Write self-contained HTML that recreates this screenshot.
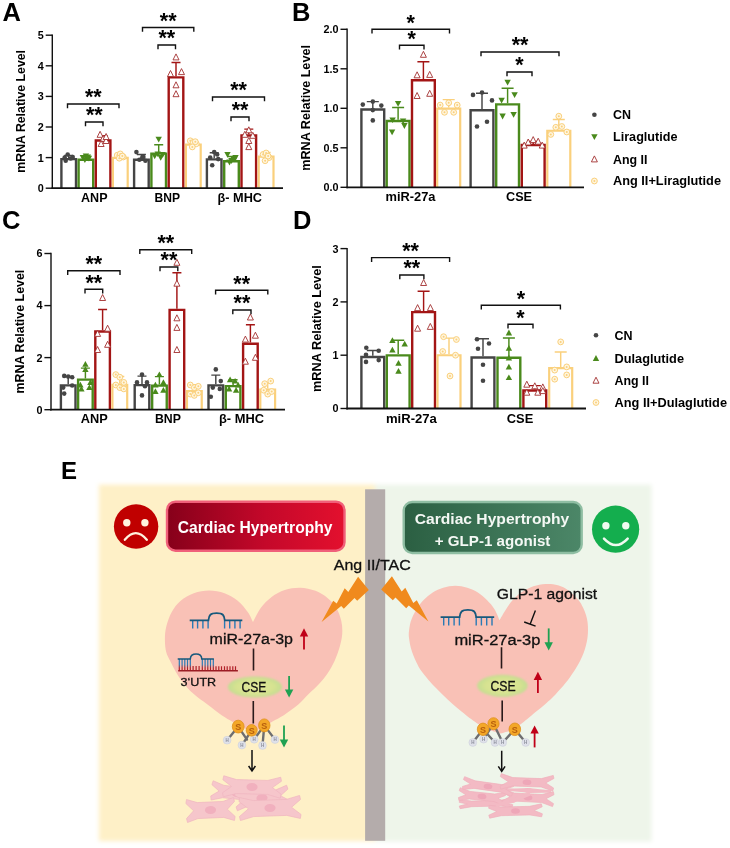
<!DOCTYPE html>
<html><head><meta charset="utf-8"><title>Figure</title>
<style>html,body{margin:0;padding:0;background:#fff}svg{display:block;filter:blur(0.35px)}text{font-family:"Liberation Sans",sans-serif}</style></head>
<body>
<svg width="730" height="848" viewBox="0 0 730 848" font-family="'Liberation Sans', sans-serif">
<defs>
<linearGradient id="gr" x1="0" x2="1" y1="0" y2="0"><stop offset="0" stop-color="#86001a"/><stop offset="0.55" stop-color="#c4082a"/><stop offset="1" stop-color="#e3102e"/></linearGradient>
<linearGradient id="gg" x1="0" x2="1" y1="0" y2="0"><stop offset="0" stop-color="#2b5f42"/><stop offset="1" stop-color="#4c8768"/></linearGradient>
<radialGradient id="gcse"><stop offset="0" stop-color="#e3e89c"/><stop offset="0.7" stop-color="#d6e290"/><stop offset="1" stop-color="#c3dd93"/></radialGradient>
<filter id="soft" x="-5%" y="-5%" width="110%" height="110%"><feGaussianBlur stdDeviation="2"/></filter>
<filter id="soft2" x="-5%" y="-5%" width="110%" height="110%"><feGaussianBlur stdDeviation="0.5"/></filter>
<filter id="soft3" x="-10%" y="-20%" width="120%" height="140%"><feGaussianBlur stdDeviation="0.8"/></filter>
</defs>
<rect width="730" height="848" fill="#fff"/>
<path d="M61.40 188.2V159.11H76.00V188.2" fill="#fff" stroke="#454545" stroke-width="2.4"/>
<path d="M68.7 157.9V155.5M64.2 155.5H73.2" stroke="#454545" stroke-width="1.45" fill="none"/>
<circle cx="64.7" cy="157.6" r="2.3" fill="#454545"/>
<circle cx="67.7" cy="154.5" r="2.3" fill="#454545"/>
<circle cx="70.7" cy="158.5" r="2.3" fill="#454545"/>
<circle cx="72.7" cy="157.0" r="2.3" fill="#454545"/>
<circle cx="65.7" cy="160.7" r="2.3" fill="#454545"/>
<path d="M78.60 188.2V159.72H93.20V188.2" fill="#fff" stroke="#4a8a1c" stroke-width="2.4"/>
<path d="M85.9 158.5V156.4M81.4 156.4H90.4" stroke="#4a8a1c" stroke-width="1.45" fill="none"/>
<path d="M79.7 155.0L86.1 155.0L82.9 160.8Z" fill="#4a8a1c"/>
<path d="M82.7 153.5L89.1 153.5L85.9 159.3Z" fill="#4a8a1c"/>
<path d="M85.7 155.7L92.1 155.7L88.9 161.4Z" fill="#4a8a1c"/>
<path d="M81.7 157.2L88.1 157.2L84.9 162.9Z" fill="#4a8a1c"/>
<path d="M84.7 154.4L91.1 154.4L87.9 160.2Z" fill="#4a8a1c"/>
<path d="M95.80 188.2V140.44H110.40V188.2" fill="#fff" stroke="#a31515" stroke-width="2.4"/>
<path d="M103.1 139.2V135.6M98.6 135.6H107.6" stroke="#a31515" stroke-width="1.45" fill="none"/>
<path d="M97.1 137.3L103.1 137.3L100.1 131.3Z" fill="#fff" stroke="#a33030" stroke-width="0.9" stroke-linejoin="miter"/>
<path d="M100.1 141.3L106.1 141.3L103.1 135.3Z" fill="#fff" stroke="#a33030" stroke-width="0.9" stroke-linejoin="miter"/>
<path d="M103.1 143.5L109.1 143.5L106.1 137.5Z" fill="#fff" stroke="#a33030" stroke-width="0.9" stroke-linejoin="miter"/>
<path d="M98.1 146.5L104.1 146.5L101.1 140.5Z" fill="#fff" stroke="#a33030" stroke-width="0.9" stroke-linejoin="miter"/>
<path d="M103.1 139.5L109.1 139.5L106.1 133.5Z" fill="#fff" stroke="#a33030" stroke-width="0.9" stroke-linejoin="miter"/>
<path d="M112.90 188.2V157.78H127.70V188.2" fill="#fff" stroke="#fad07c" stroke-width="2.2"/>
<path d="M120.3 156.7V154.5M115.8 154.5H124.8" stroke="#fad07c" stroke-width="1.45" fill="none"/>
<circle cx="117.3" cy="155.2" r="2.9" fill="#fff6e0" stroke="#fad07c" stroke-width="1"/>
<circle cx="117.3" cy="155.2" r="1.0" fill="#fad07c"/>
<circle cx="120.3" cy="153.9" r="2.9" fill="#fff6e0" stroke="#fad07c" stroke-width="1"/>
<circle cx="120.3" cy="153.9" r="1.0" fill="#fad07c"/>
<circle cx="123.3" cy="157.0" r="2.9" fill="#fff6e0" stroke="#fad07c" stroke-width="1"/>
<circle cx="123.3" cy="157.0" r="1.0" fill="#fad07c"/>
<circle cx="119.3" cy="158.2" r="2.9" fill="#fff6e0" stroke="#fad07c" stroke-width="1"/>
<circle cx="119.3" cy="158.2" r="1.0" fill="#fad07c"/>
<circle cx="122.3" cy="156.1" r="2.9" fill="#fff6e0" stroke="#fad07c" stroke-width="1"/>
<circle cx="122.3" cy="156.1" r="1.0" fill="#fad07c"/>
<path d="M134.10 188.2V159.72H148.70V188.2" fill="#fff" stroke="#454545" stroke-width="2.4"/>
<path d="M141.4 158.5V154.5M136.9 154.5H145.9" stroke="#454545" stroke-width="1.45" fill="none"/>
<circle cx="136.4" cy="152.1" r="2.3" fill="#454545"/>
<circle cx="139.4" cy="159.7" r="2.3" fill="#454545"/>
<circle cx="142.4" cy="157.6" r="2.3" fill="#454545"/>
<circle cx="145.4" cy="160.7" r="2.3" fill="#454545"/>
<circle cx="143.4" cy="157.0" r="2.3" fill="#454545"/>
<path d="M151.40 188.2V153.60H166.00V188.2" fill="#fff" stroke="#4a8a1c" stroke-width="2.4"/>
<path d="M158.7 152.4V144.7M154.2 144.7H163.2" stroke="#4a8a1c" stroke-width="1.45" fill="none"/>
<path d="M155.5 136.7L161.9 136.7L158.7 142.4Z" fill="#4a8a1c"/>
<path d="M151.5 153.5L157.9 153.5L154.7 159.3Z" fill="#4a8a1c"/>
<path d="M154.5 151.4L160.9 151.4L157.7 157.1Z" fill="#4a8a1c"/>
<path d="M157.5 155.0L163.9 155.0L160.7 160.8Z" fill="#4a8a1c"/>
<path d="M159.5 152.0L165.9 152.0L162.7 157.7Z" fill="#4a8a1c"/>
<path d="M168.70 188.2V77.40H183.30V188.2" fill="#fff" stroke="#a31515" stroke-width="2.4"/>
<path d="M176.0 76.2V62.4M171.5 62.4H180.5" stroke="#a31515" stroke-width="1.45" fill="none"/>
<path d="M173.0 59.9L179.0 59.9L176.0 53.9Z" fill="#fff" stroke="#a33030" stroke-width="0.9" stroke-linejoin="miter"/>
<path d="M167.5 76.5L173.5 76.5L170.5 70.5Z" fill="#fff" stroke="#a33030" stroke-width="0.9" stroke-linejoin="miter"/>
<path d="M178.5 74.6L184.5 74.6L181.5 68.6Z" fill="#fff" stroke="#a33030" stroke-width="0.9" stroke-linejoin="miter"/>
<path d="M173.0 87.8L179.0 87.8L176.0 81.8Z" fill="#fff" stroke="#a33030" stroke-width="0.9" stroke-linejoin="miter"/>
<path d="M173.0 96.7L179.0 96.7L176.0 90.7Z" fill="#fff" stroke="#a33030" stroke-width="0.9" stroke-linejoin="miter"/>
<path d="M185.90 188.2V144.62H200.70V188.2" fill="#fff" stroke="#fad07c" stroke-width="2.2"/>
<path d="M193.3 143.5V140.5M188.8 140.5H197.8" stroke="#fad07c" stroke-width="1.45" fill="none"/>
<circle cx="190.3" cy="140.8" r="2.9" fill="#fff6e0" stroke="#fad07c" stroke-width="1"/>
<circle cx="190.3" cy="140.8" r="1.0" fill="#fad07c"/>
<circle cx="193.3" cy="142.3" r="2.9" fill="#fff6e0" stroke="#fad07c" stroke-width="1"/>
<circle cx="193.3" cy="142.3" r="1.0" fill="#fad07c"/>
<circle cx="196.3" cy="143.8" r="2.9" fill="#fff6e0" stroke="#fad07c" stroke-width="1"/>
<circle cx="196.3" cy="143.8" r="1.0" fill="#fad07c"/>
<circle cx="192.3" cy="146.9" r="2.9" fill="#fff6e0" stroke="#fad07c" stroke-width="1"/>
<circle cx="192.3" cy="146.9" r="1.0" fill="#fad07c"/>
<circle cx="195.3" cy="141.7" r="2.9" fill="#fff6e0" stroke="#fad07c" stroke-width="1"/>
<circle cx="195.3" cy="141.7" r="1.0" fill="#fad07c"/>
<path d="M206.90 188.2V159.41H221.50V188.2" fill="#fff" stroke="#454545" stroke-width="2.4"/>
<path d="M214.2 158.2V152.7M209.7 152.7H218.7" stroke="#454545" stroke-width="1.45" fill="none"/>
<circle cx="210.2" cy="157.6" r="2.3" fill="#454545"/>
<circle cx="214.2" cy="152.1" r="2.3" fill="#454545"/>
<circle cx="218.2" cy="159.1" r="2.3" fill="#454545"/>
<circle cx="212.2" cy="165.2" r="2.3" fill="#454545"/>
<circle cx="217.2" cy="154.5" r="2.3" fill="#454545"/>
<path d="M224.20 188.2V161.25H238.80V188.2" fill="#fff" stroke="#4a8a1c" stroke-width="2.4"/>
<path d="M231.5 160.0V156.4M227.0 156.4H236.0" stroke="#4a8a1c" stroke-width="1.45" fill="none"/>
<path d="M224.3 152.0L230.7 152.0L227.5 157.7Z" fill="#4a8a1c"/>
<path d="M228.3 158.1L234.7 158.1L231.5 163.9Z" fill="#4a8a1c"/>
<path d="M231.3 156.6L237.7 156.6L234.5 162.3Z" fill="#4a8a1c"/>
<path d="M226.3 159.6L232.7 159.6L229.5 165.4Z" fill="#4a8a1c"/>
<path d="M232.3 155.0L238.7 155.0L235.5 160.8Z" fill="#4a8a1c"/>
<path d="M241.50 188.2V135.54H256.10V188.2" fill="#fff" stroke="#a31515" stroke-width="2.4"/>
<path d="M248.8 134.3V129.1M244.3 129.1H253.3" stroke="#a31515" stroke-width="1.45" fill="none"/>
<path d="M245.8 132.8L251.8 132.8L248.8 126.8Z" fill="#fff" stroke="#a33030" stroke-width="0.9" stroke-linejoin="miter"/>
<path d="M241.8 137.3L247.8 137.3L244.8 131.3Z" fill="#fff" stroke="#a33030" stroke-width="0.9" stroke-linejoin="miter"/>
<path d="M249.8 138.3L255.8 138.3L252.8 132.3Z" fill="#fff" stroke="#a33030" stroke-width="0.9" stroke-linejoin="miter"/>
<path d="M245.8 143.5L251.8 143.5L248.8 137.5Z" fill="#fff" stroke="#a33030" stroke-width="0.9" stroke-linejoin="miter"/>
<path d="M245.8 149.6L251.8 149.6L248.8 143.6Z" fill="#fff" stroke="#a33030" stroke-width="0.9" stroke-linejoin="miter"/>
<path d="M258.70 188.2V156.56H273.50V188.2" fill="#fff" stroke="#fad07c" stroke-width="2.2"/>
<path d="M266.1 155.5V152.4M261.6 152.4H270.6" stroke="#fad07c" stroke-width="1.45" fill="none"/>
<circle cx="263.1" cy="154.5" r="2.9" fill="#fff6e0" stroke="#fad07c" stroke-width="1"/>
<circle cx="263.1" cy="154.5" r="1.0" fill="#fad07c"/>
<circle cx="266.1" cy="153.0" r="2.9" fill="#fff6e0" stroke="#fad07c" stroke-width="1"/>
<circle cx="266.1" cy="153.0" r="1.0" fill="#fad07c"/>
<circle cx="269.1" cy="157.6" r="2.9" fill="#fff6e0" stroke="#fad07c" stroke-width="1"/>
<circle cx="269.1" cy="157.6" r="1.0" fill="#fad07c"/>
<circle cx="265.1" cy="160.7" r="2.9" fill="#fff6e0" stroke="#fad07c" stroke-width="1"/>
<circle cx="265.1" cy="160.7" r="1.0" fill="#fad07c"/>
<circle cx="268.1" cy="156.1" r="2.9" fill="#fff6e0" stroke="#fad07c" stroke-width="1"/>
<circle cx="268.1" cy="156.1" r="1.0" fill="#fad07c"/>
<path d="M52.3 34.5V189.1" fill="none" stroke="#111" stroke-width="1.4"/>
<path d="M51.599999999999994 188.2H283" fill="none" stroke="#111" stroke-width="1.8"/>
<path d="M45.699999999999996 188.2H52.3" stroke="#111" stroke-width="1.4"/>
<text x="43.699999999999996" y="192.1" font-size="10.8" font-weight="bold" text-anchor="end" fill="#000">0</text>
<path d="M45.699999999999996 157.6H52.3" stroke="#111" stroke-width="1.4"/>
<text x="43.699999999999996" y="161.5" font-size="10.8" font-weight="bold" text-anchor="end" fill="#000">1</text>
<path d="M45.699999999999996 127.0H52.3" stroke="#111" stroke-width="1.4"/>
<text x="43.699999999999996" y="130.89999999999998" font-size="10.8" font-weight="bold" text-anchor="end" fill="#000">2</text>
<path d="M45.699999999999996 96.4H52.3" stroke="#111" stroke-width="1.4"/>
<text x="43.699999999999996" y="100.29999999999998" font-size="10.8" font-weight="bold" text-anchor="end" fill="#000">3</text>
<path d="M45.699999999999996 65.8H52.3" stroke="#111" stroke-width="1.4"/>
<text x="43.699999999999996" y="69.69999999999999" font-size="10.8" font-weight="bold" text-anchor="end" fill="#000">4</text>
<path d="M45.699999999999996 35.2H52.3" stroke="#111" stroke-width="1.4"/>
<text x="43.699999999999996" y="39.09999999999999" font-size="10.8" font-weight="bold" text-anchor="end" fill="#000">5</text>
<text transform="translate(24.9 111.35) rotate(-90)" font-size="13" font-weight="bold" text-anchor="middle" textLength="122.7" lengthAdjust="spacingAndGlyphs">mRNA Relative Level</text>
<text x="94.3" y="201.8" font-size="12.4" font-weight="bold" text-anchor="middle" fill="#000" textLength="26.5" lengthAdjust="spacingAndGlyphs">ANP</text>
<text x="167.3" y="201.8" font-size="12.4" font-weight="bold" text-anchor="middle" fill="#000" textLength="25.5" lengthAdjust="spacingAndGlyphs">BNP</text>
<text x="239.8" y="201.8" font-size="12.4" font-weight="bold" text-anchor="middle" fill="#000" textLength="44.5" lengthAdjust="spacingAndGlyphs">β- MHC</text>
<path d="M67.5 108.3V104H119V108.3" fill="none" stroke="#111" stroke-width="1.4"/>
<text x="93.25" y="104.3" font-size="21.5" font-weight="bold" text-anchor="middle" fill="#000">**</text>
<path d="M85.5 126.3V122H103V126.3" fill="none" stroke="#111" stroke-width="1.4"/>
<text x="94.25" y="122.3" font-size="21.5" font-weight="bold" text-anchor="middle" fill="#000">**</text>
<path d="M142.5 31.8V27.5H193.8V31.8" fill="none" stroke="#111" stroke-width="1.4"/>
<text x="168.15" y="27.8" font-size="21.5" font-weight="bold" text-anchor="middle" fill="#000">**</text>
<path d="M158 49.3V45H175.5V49.3" fill="none" stroke="#111" stroke-width="1.4"/>
<text x="166.75" y="45.3" font-size="21.5" font-weight="bold" text-anchor="middle" fill="#000">**</text>
<path d="M212.5 101.3V97H264.5V101.3" fill="none" stroke="#111" stroke-width="1.4"/>
<text x="238.5" y="97.3" font-size="21.5" font-weight="bold" text-anchor="middle" fill="#000">**</text>
<path d="M231 121.3V117H249V121.3" fill="none" stroke="#111" stroke-width="1.4"/>
<text x="240.0" y="117.3" font-size="21.5" font-weight="bold" text-anchor="middle" fill="#000">**</text>
<text x="2.5" y="20.5" font-size="25.5" font-weight="bold" text-anchor="start" fill="#000">A</text>
<path d="M361.40 187.3V109.50H384.20V187.3" fill="#fff" stroke="#454545" stroke-width="2.4"/>
<path d="M372.8 108.3V101.6M366.8 101.6H378.8" stroke="#454545" stroke-width="1.45" fill="none"/>
<circle cx="362.8" cy="104.6" r="2.3" fill="#454545"/>
<circle cx="372.8" cy="101.6" r="2.3" fill="#454545"/>
<circle cx="381.3" cy="105.6" r="2.3" fill="#454545"/>
<circle cx="372.8" cy="110.1" r="2.3" fill="#454545"/>
<circle cx="372.8" cy="120.4" r="2.3" fill="#454545"/>
<path d="M386.70 187.3V120.96H409.50V187.3" fill="#fff" stroke="#4a8a1c" stroke-width="2.4"/>
<path d="M398.1 119.8V107.5M392.1 107.5H404.1" stroke="#4a8a1c" stroke-width="1.45" fill="none"/>
<path d="M394.9 101.0L401.3 101.0L398.1 106.8Z" fill="#4a8a1c"/>
<path d="M389.4 117.4L395.8 117.4L392.6 123.1Z" fill="#4a8a1c"/>
<path d="M401.2 123.1L407.6 123.1L404.4 128.9Z" fill="#4a8a1c"/>
<path d="M388.9 129.4L395.3 129.4L392.1 135.2Z" fill="#4a8a1c"/>
<path d="M399.9 118.4L406.3 118.4L403.1 124.1Z" fill="#4a8a1c"/>
<path d="M412.00 187.3V80.27H434.80V187.3" fill="#fff" stroke="#a31515" stroke-width="2.4"/>
<path d="M423.4 79.1V61.7M417.4 61.7H429.4" stroke="#a31515" stroke-width="1.45" fill="none"/>
<path d="M420.4 57.3L426.4 57.3L423.4 51.3Z" fill="#fff" stroke="#a33030" stroke-width="0.9" stroke-linejoin="miter"/>
<path d="M414.1 77.8L420.1 77.8L417.1 71.8Z" fill="#fff" stroke="#a33030" stroke-width="0.9" stroke-linejoin="miter"/>
<path d="M426.7 77.4L432.7 77.4L429.7 71.4Z" fill="#fff" stroke="#a33030" stroke-width="0.9" stroke-linejoin="miter"/>
<path d="M414.1 98.5L420.1 98.5L417.1 92.5Z" fill="#fff" stroke="#a33030" stroke-width="0.9" stroke-linejoin="miter"/>
<path d="M426.7 96.3L432.7 96.3L429.7 90.3Z" fill="#fff" stroke="#a33030" stroke-width="0.9" stroke-linejoin="miter"/>
<path d="M437.20 187.3V108.61H460.20V187.3" fill="#fff" stroke="#fad07c" stroke-width="2.2"/>
<path d="M448.7 107.5V99.6M442.7 99.6H454.7" stroke="#fad07c" stroke-width="1.45" fill="none"/>
<circle cx="440.2" cy="105.1" r="2.9" fill="#fff6e0" stroke="#fad07c" stroke-width="1"/>
<circle cx="440.2" cy="105.1" r="1.0" fill="#fad07c"/>
<circle cx="448.7" cy="102.8" r="2.9" fill="#fff6e0" stroke="#fad07c" stroke-width="1"/>
<circle cx="448.7" cy="102.8" r="1.0" fill="#fad07c"/>
<circle cx="457.2" cy="105.1" r="2.9" fill="#fff6e0" stroke="#fad07c" stroke-width="1"/>
<circle cx="457.2" cy="105.1" r="1.0" fill="#fad07c"/>
<circle cx="444.5" cy="112.3" r="2.9" fill="#fff6e0" stroke="#fad07c" stroke-width="1"/>
<circle cx="444.5" cy="112.3" r="1.0" fill="#fad07c"/>
<circle cx="453.7" cy="112.3" r="2.9" fill="#fff6e0" stroke="#fad07c" stroke-width="1"/>
<circle cx="453.7" cy="112.3" r="1.0" fill="#fad07c"/>
<path d="M470.60 187.3V110.29H493.40V187.3" fill="#fff" stroke="#454545" stroke-width="2.4"/>
<path d="M482.0 109.1V93.3M476.0 93.3H488.0" stroke="#454545" stroke-width="1.45" fill="none"/>
<circle cx="473.0" cy="94.9" r="2.3" fill="#454545"/>
<circle cx="482.0" cy="92.5" r="2.3" fill="#454545"/>
<circle cx="492.0" cy="100.4" r="2.3" fill="#454545"/>
<circle cx="477.0" cy="126.5" r="2.3" fill="#454545"/>
<circle cx="487.0" cy="121.7" r="2.3" fill="#454545"/>
<path d="M496.20 187.3V104.37H519.00V187.3" fill="#fff" stroke="#4a8a1c" stroke-width="2.4"/>
<path d="M507.6 103.2V88.2M501.6 88.2H513.6" stroke="#4a8a1c" stroke-width="1.45" fill="none"/>
<path d="M504.4 79.7L510.8 79.7L507.6 85.4Z" fill="#4a8a1c"/>
<path d="M498.4 97.8L504.8 97.8L501.6 103.6Z" fill="#4a8a1c"/>
<path d="M511.4 92.3L517.8 92.3L514.6 98.1Z" fill="#4a8a1c"/>
<path d="M499.4 113.6L505.8 113.6L502.6 119.4Z" fill="#4a8a1c"/>
<path d="M510.4 112.1L516.8 112.1L513.6 117.8Z" fill="#4a8a1c"/>
<path d="M521.80 187.3V145.05H544.60V187.3" fill="#fff" stroke="#a31515" stroke-width="2.4"/>
<path d="M533.2 143.9V141.5M527.2 141.5H539.2" stroke="#a31515" stroke-width="1.45" fill="none"/>
<path d="M525.2 145.0L531.2 145.0L528.2 139.0Z" fill="#fff" stroke="#a33030" stroke-width="0.9" stroke-linejoin="miter"/>
<path d="M530.2 142.6L536.2 142.6L533.2 136.6Z" fill="#fff" stroke="#a33030" stroke-width="0.9" stroke-linejoin="miter"/>
<path d="M535.2 144.2L541.2 144.2L538.2 138.2Z" fill="#fff" stroke="#a33030" stroke-width="0.9" stroke-linejoin="miter"/>
<path d="M521.2 148.1L527.2 148.1L524.2 142.1Z" fill="#fff" stroke="#a33030" stroke-width="0.9" stroke-linejoin="miter"/>
<path d="M539.2 148.1L545.2 148.1L542.2 142.1Z" fill="#fff" stroke="#a33030" stroke-width="0.9" stroke-linejoin="miter"/>
<path d="M547.30 187.3V130.73H570.30V187.3" fill="#fff" stroke="#fad07c" stroke-width="2.2"/>
<path d="M558.8 129.6V119.4M552.8 119.4H564.8" stroke="#fad07c" stroke-width="1.45" fill="none"/>
<circle cx="558.8" cy="116.2" r="2.9" fill="#fff6e0" stroke="#fad07c" stroke-width="1"/>
<circle cx="558.8" cy="116.2" r="1.0" fill="#fad07c"/>
<circle cx="555.8" cy="127.3" r="2.9" fill="#fff6e0" stroke="#fad07c" stroke-width="1"/>
<circle cx="555.8" cy="127.3" r="1.0" fill="#fad07c"/>
<circle cx="561.8" cy="126.5" r="2.9" fill="#fff6e0" stroke="#fad07c" stroke-width="1"/>
<circle cx="561.8" cy="126.5" r="1.0" fill="#fad07c"/>
<circle cx="550.8" cy="134.4" r="2.9" fill="#fff6e0" stroke="#fad07c" stroke-width="1"/>
<circle cx="550.8" cy="134.4" r="1.0" fill="#fad07c"/>
<circle cx="566.8" cy="132.0" r="2.9" fill="#fff6e0" stroke="#fad07c" stroke-width="1"/>
<circle cx="566.8" cy="132.0" r="1.0" fill="#fad07c"/>
<path d="M347.1 28.6V188.20000000000002" fill="none" stroke="#111" stroke-width="1.4"/>
<path d="M346.40000000000003 187.3H584" fill="none" stroke="#111" stroke-width="1.8"/>
<path d="M340.5 187.3H347.1" stroke="#111" stroke-width="1.4"/>
<text x="338.5" y="191.20000000000002" font-size="10.8" font-weight="bold" text-anchor="end" fill="#000">0.0</text>
<path d="M340.5 147.8H347.1" stroke="#111" stroke-width="1.4"/>
<text x="338.5" y="151.70000000000002" font-size="10.8" font-weight="bold" text-anchor="end" fill="#000">0.5</text>
<path d="M340.5 108.3H347.1" stroke="#111" stroke-width="1.4"/>
<text x="338.5" y="112.20000000000002" font-size="10.8" font-weight="bold" text-anchor="end" fill="#000">1.0</text>
<path d="M340.5 68.8H347.1" stroke="#111" stroke-width="1.4"/>
<text x="338.5" y="72.70000000000002" font-size="10.8" font-weight="bold" text-anchor="end" fill="#000">1.5</text>
<path d="M340.5 29.3H347.1" stroke="#111" stroke-width="1.4"/>
<text x="338.5" y="33.20000000000001" font-size="10.8" font-weight="bold" text-anchor="end" fill="#000">2.0</text>
<text transform="translate(310.2 107.9) rotate(-90)" font-size="13" font-weight="bold" text-anchor="middle" textLength="125.6" lengthAdjust="spacingAndGlyphs">mRNA Relative Level</text>
<text x="410.5" y="201" font-size="12.4" font-weight="bold" text-anchor="middle" fill="#000" textLength="50" lengthAdjust="spacingAndGlyphs">miR-27a</text>
<text x="519" y="201" font-size="12.4" font-weight="bold" text-anchor="middle" fill="#000" textLength="26" lengthAdjust="spacingAndGlyphs">CSE</text>
<path d="M372 33.5V29.2H449.5V33.5" fill="none" stroke="#111" stroke-width="1.4"/>
<text x="410.75" y="29.5" font-size="21.5" font-weight="bold" text-anchor="middle" fill="#000">*</text>
<path d="M399.5 49.5V45.2H424V49.5" fill="none" stroke="#111" stroke-width="1.4"/>
<text x="411.75" y="45.5" font-size="21.5" font-weight="bold" text-anchor="middle" fill="#000">*</text>
<path d="M481 56.3V52H559V56.3" fill="none" stroke="#111" stroke-width="1.4"/>
<text x="520.0" y="52.3" font-size="21.5" font-weight="bold" text-anchor="middle" fill="#000">**</text>
<path d="M507 76.3V72H532V76.3" fill="none" stroke="#111" stroke-width="1.4"/>
<text x="519.5" y="72.3" font-size="21.5" font-weight="bold" text-anchor="middle" fill="#000">*</text>
<text x="292" y="20.5" font-size="25.5" font-weight="bold" text-anchor="start" fill="#000">B</text>
<path d="M60.90 409.7V385.39H75.50V409.7" fill="#fff" stroke="#454545" stroke-width="2.4"/>
<path d="M68.2 384.2V376.4M63.7 376.4H72.7" stroke="#454545" stroke-width="1.45" fill="none"/>
<circle cx="64.2" cy="375.9" r="2.3" fill="#454545"/>
<circle cx="68.2" cy="376.6" r="2.3" fill="#454545"/>
<circle cx="72.2" cy="377.2" r="2.3" fill="#454545"/>
<circle cx="63.2" cy="387.6" r="2.3" fill="#454545"/>
<circle cx="64.2" cy="393.6" r="2.3" fill="#454545"/>
<circle cx="72.2" cy="385.5" r="2.3" fill="#454545"/>
<path d="M78.10 409.7V379.66H92.70V409.7" fill="#fff" stroke="#4a8a1c" stroke-width="2.4"/>
<path d="M85.4 378.5V368.1M80.9 368.1H89.9" stroke="#4a8a1c" stroke-width="1.45" fill="none"/>
<path d="M82.2 366.7L88.6 366.7L85.4 360.9Z" fill="#4a8a1c"/>
<path d="M82.2 371.9L88.6 371.9L85.4 366.2Z" fill="#4a8a1c"/>
<path d="M77.2 387.5L83.6 387.5L80.4 381.8Z" fill="#4a8a1c"/>
<path d="M87.2 384.9L93.6 384.9L90.4 379.2Z" fill="#4a8a1c"/>
<path d="M78.2 391.4L84.6 391.4L81.4 385.7Z" fill="#4a8a1c"/>
<path d="M86.2 390.1L92.6 390.1L89.4 384.4Z" fill="#4a8a1c"/>
<path d="M95.30 409.7V331.51H109.90V409.7" fill="#fff" stroke="#a31515" stroke-width="2.4"/>
<path d="M102.6 330.3V309.5M98.1 309.5H107.1" stroke="#a31515" stroke-width="1.45" fill="none"/>
<path d="M99.6 300.5L105.6 300.5L102.6 294.5Z" fill="#fff" stroke="#a33030" stroke-width="0.9" stroke-linejoin="miter"/>
<path d="M104.6 331.2L110.6 331.2L107.6 325.2Z" fill="#fff" stroke="#a33030" stroke-width="0.9" stroke-linejoin="miter"/>
<path d="M94.6 336.4L100.6 336.4L97.6 330.4Z" fill="#fff" stroke="#a33030" stroke-width="0.9" stroke-linejoin="miter"/>
<path d="M104.6 347.3L110.6 347.3L107.6 341.3Z" fill="#fff" stroke="#a33030" stroke-width="0.9" stroke-linejoin="miter"/>
<path d="M94.6 352.5L100.6 352.5L97.6 346.5Z" fill="#fff" stroke="#a33030" stroke-width="0.9" stroke-linejoin="miter"/>
<path d="M112.40 409.7V384.77H127.20V409.7" fill="#fff" stroke="#fad07c" stroke-width="2.2"/>
<path d="M119.8 383.7V376.4M115.3 376.4H124.3" stroke="#fad07c" stroke-width="1.45" fill="none"/>
<circle cx="115.8" cy="374.6" r="2.9" fill="#fff6e0" stroke="#fad07c" stroke-width="1"/>
<circle cx="115.8" cy="374.6" r="1.0" fill="#fad07c"/>
<circle cx="119.8" cy="377.2" r="2.9" fill="#fff6e0" stroke="#fad07c" stroke-width="1"/>
<circle cx="119.8" cy="377.2" r="1.0" fill="#fad07c"/>
<circle cx="123.8" cy="382.4" r="2.9" fill="#fff6e0" stroke="#fad07c" stroke-width="1"/>
<circle cx="123.8" cy="382.4" r="1.0" fill="#fad07c"/>
<circle cx="115.8" cy="385.0" r="2.9" fill="#fff6e0" stroke="#fad07c" stroke-width="1"/>
<circle cx="115.8" cy="385.0" r="1.0" fill="#fad07c"/>
<circle cx="119.8" cy="387.6" r="2.9" fill="#fff6e0" stroke="#fad07c" stroke-width="1"/>
<circle cx="119.8" cy="387.6" r="1.0" fill="#fad07c"/>
<circle cx="123.8" cy="388.9" r="2.9" fill="#fff6e0" stroke="#fad07c" stroke-width="1"/>
<circle cx="123.8" cy="388.9" r="1.0" fill="#fad07c"/>
<path d="M134.70 409.7V385.13H149.30V409.7" fill="#fff" stroke="#454545" stroke-width="2.4"/>
<path d="M142.0 383.9V376.1M137.5 376.1H146.5" stroke="#454545" stroke-width="1.45" fill="none"/>
<circle cx="142.0" cy="374.6" r="2.3" fill="#454545"/>
<circle cx="137.0" cy="382.4" r="2.3" fill="#454545"/>
<circle cx="147.0" cy="382.4" r="2.3" fill="#454545"/>
<circle cx="142.0" cy="395.4" r="2.3" fill="#454545"/>
<circle cx="145.0" cy="386.3" r="2.3" fill="#454545"/>
<path d="M152.15 409.7V385.65H166.75V409.7" fill="#fff" stroke="#4a8a1c" stroke-width="2.4"/>
<path d="M159.4 384.5V376.6M154.9 376.6H163.9" stroke="#4a8a1c" stroke-width="1.45" fill="none"/>
<path d="M156.2 377.1L162.6 377.1L159.4 371.4Z" fill="#4a8a1c"/>
<path d="M152.2 387.5L158.6 387.5L155.4 381.8Z" fill="#4a8a1c"/>
<path d="M160.2 384.9L166.6 384.9L163.4 379.2Z" fill="#4a8a1c"/>
<path d="M152.2 394.0L158.6 394.0L155.4 388.3Z" fill="#4a8a1c"/>
<path d="M160.2 392.7L166.6 392.7L163.4 387.0Z" fill="#4a8a1c"/>
<path d="M169.60 409.7V309.90H184.20V409.7" fill="#fff" stroke="#a31515" stroke-width="2.4"/>
<path d="M176.9 308.7V272.8M172.4 272.8H181.4" stroke="#a31515" stroke-width="1.45" fill="none"/>
<path d="M173.9 265.3L179.9 265.3L176.9 259.3Z" fill="#fff" stroke="#a33030" stroke-width="0.9" stroke-linejoin="miter"/>
<path d="M173.9 286.2L179.9 286.2L176.9 280.2Z" fill="#fff" stroke="#a33030" stroke-width="0.9" stroke-linejoin="miter"/>
<path d="M173.9 320.8L179.9 320.8L176.9 314.8Z" fill="#fff" stroke="#a33030" stroke-width="0.9" stroke-linejoin="miter"/>
<path d="M173.9 330.4L179.9 330.4L176.9 324.4Z" fill="#fff" stroke="#a33030" stroke-width="0.9" stroke-linejoin="miter"/>
<path d="M173.9 352.5L179.9 352.5L176.9 346.5Z" fill="#fff" stroke="#a33030" stroke-width="0.9" stroke-linejoin="miter"/>
<path d="M186.95 409.7V391.02H201.75V409.7" fill="#fff" stroke="#fad07c" stroke-width="2.2"/>
<path d="M194.3 389.9V384.7M189.8 384.7H198.8" stroke="#fad07c" stroke-width="1.45" fill="none"/>
<circle cx="190.3" cy="385.0" r="2.9" fill="#fff6e0" stroke="#fad07c" stroke-width="1"/>
<circle cx="190.3" cy="385.0" r="1.0" fill="#fad07c"/>
<circle cx="194.3" cy="387.6" r="2.9" fill="#fff6e0" stroke="#fad07c" stroke-width="1"/>
<circle cx="194.3" cy="387.6" r="1.0" fill="#fad07c"/>
<circle cx="198.3" cy="386.3" r="2.9" fill="#fff6e0" stroke="#fad07c" stroke-width="1"/>
<circle cx="198.3" cy="386.3" r="1.0" fill="#fad07c"/>
<circle cx="190.3" cy="394.1" r="2.9" fill="#fff6e0" stroke="#fad07c" stroke-width="1"/>
<circle cx="190.3" cy="394.1" r="1.0" fill="#fad07c"/>
<circle cx="194.3" cy="395.4" r="2.9" fill="#fff6e0" stroke="#fad07c" stroke-width="1"/>
<circle cx="194.3" cy="395.4" r="1.0" fill="#fad07c"/>
<circle cx="198.3" cy="392.8" r="2.9" fill="#fff6e0" stroke="#fad07c" stroke-width="1"/>
<circle cx="198.3" cy="392.8" r="1.0" fill="#fad07c"/>
<path d="M208.50 409.7V385.39H223.10V409.7" fill="#fff" stroke="#454545" stroke-width="2.4"/>
<path d="M215.8 384.2V375.1M211.3 375.1H220.3" stroke="#454545" stroke-width="1.45" fill="none"/>
<circle cx="215.8" cy="369.4" r="2.3" fill="#454545"/>
<circle cx="220.8" cy="381.1" r="2.3" fill="#454545"/>
<circle cx="212.8" cy="387.6" r="2.3" fill="#454545"/>
<circle cx="210.8" cy="396.7" r="2.3" fill="#454545"/>
<circle cx="219.8" cy="388.9" r="2.3" fill="#454545"/>
<path d="M225.80 409.7V386.17H240.40V409.7" fill="#fff" stroke="#4a8a1c" stroke-width="2.4"/>
<path d="M233.1 385.0V379.8M228.6 379.8H237.6" stroke="#4a8a1c" stroke-width="1.45" fill="none"/>
<path d="M226.9 382.3L233.3 382.3L230.1 376.6Z" fill="#4a8a1c"/>
<path d="M231.9 383.6L238.3 383.6L235.1 377.9Z" fill="#4a8a1c"/>
<path d="M234.9 387.5L241.3 387.5L238.1 381.8Z" fill="#4a8a1c"/>
<path d="M225.9 391.4L232.3 391.4L229.1 385.7Z" fill="#4a8a1c"/>
<path d="M232.9 392.7L239.3 392.7L236.1 387.0Z" fill="#4a8a1c"/>
<path d="M243.10 409.7V343.74H257.70V409.7" fill="#fff" stroke="#a31515" stroke-width="2.4"/>
<path d="M250.4 342.5V324.8M245.9 324.8H254.9" stroke="#a31515" stroke-width="1.45" fill="none"/>
<path d="M247.4 320.0L253.4 320.0L250.4 314.0Z" fill="#fff" stroke="#a33030" stroke-width="0.9" stroke-linejoin="miter"/>
<path d="M242.4 342.1L248.4 342.1L245.4 336.1Z" fill="#fff" stroke="#a33030" stroke-width="0.9" stroke-linejoin="miter"/>
<path d="M252.4 338.2L258.4 338.2L255.4 332.2Z" fill="#fff" stroke="#a33030" stroke-width="0.9" stroke-linejoin="miter"/>
<path d="M252.4 360.3L258.4 360.3L255.4 354.3Z" fill="#fff" stroke="#a33030" stroke-width="0.9" stroke-linejoin="miter"/>
<path d="M242.4 364.2L248.4 364.2L245.4 358.2Z" fill="#fff" stroke="#a33030" stroke-width="0.9" stroke-linejoin="miter"/>
<path d="M260.30 409.7V389.72H275.10V409.7" fill="#fff" stroke="#fad07c" stroke-width="2.2"/>
<path d="M267.7 388.6V382.9M263.2 382.9H272.2" stroke="#fad07c" stroke-width="1.45" fill="none"/>
<circle cx="264.7" cy="383.7" r="2.9" fill="#fff6e0" stroke="#fad07c" stroke-width="1"/>
<circle cx="264.7" cy="383.7" r="1.0" fill="#fad07c"/>
<circle cx="270.7" cy="381.1" r="2.9" fill="#fff6e0" stroke="#fad07c" stroke-width="1"/>
<circle cx="270.7" cy="381.1" r="1.0" fill="#fad07c"/>
<circle cx="263.7" cy="390.2" r="2.9" fill="#fff6e0" stroke="#fad07c" stroke-width="1"/>
<circle cx="263.7" cy="390.2" r="1.0" fill="#fad07c"/>
<circle cx="267.7" cy="394.1" r="2.9" fill="#fff6e0" stroke="#fad07c" stroke-width="1"/>
<circle cx="267.7" cy="394.1" r="1.0" fill="#fad07c"/>
<circle cx="271.7" cy="391.5" r="2.9" fill="#fff6e0" stroke="#fad07c" stroke-width="1"/>
<circle cx="271.7" cy="391.5" r="1.0" fill="#fad07c"/>
<path d="M51.0 252.8V410.59999999999997" fill="none" stroke="#111" stroke-width="1.4"/>
<path d="M50.3 409.7H285" fill="none" stroke="#111" stroke-width="1.8"/>
<path d="M44.4 409.7H51.0" stroke="#111" stroke-width="1.4"/>
<text x="42.4" y="413.59999999999997" font-size="10.8" font-weight="bold" text-anchor="end" fill="#000">0</text>
<path d="M44.4 357.6H51.0" stroke="#111" stroke-width="1.4"/>
<text x="42.4" y="361.53999999999996" font-size="10.8" font-weight="bold" text-anchor="end" fill="#000">2</text>
<path d="M44.4 305.6H51.0" stroke="#111" stroke-width="1.4"/>
<text x="42.4" y="309.47999999999996" font-size="10.8" font-weight="bold" text-anchor="end" fill="#000">4</text>
<path d="M44.4 253.5H51.0" stroke="#111" stroke-width="1.4"/>
<text x="42.4" y="257.41999999999996" font-size="10.8" font-weight="bold" text-anchor="end" fill="#000">6</text>
<text transform="translate(23.6 331.6) rotate(-90)" font-size="13" font-weight="bold" text-anchor="middle" textLength="123.8" lengthAdjust="spacingAndGlyphs">mRNA Relative Level</text>
<text x="94.2" y="423" font-size="12.4" font-weight="bold" text-anchor="middle" fill="#000" textLength="27" lengthAdjust="spacingAndGlyphs">ANP</text>
<text x="167.9" y="423" font-size="12.4" font-weight="bold" text-anchor="middle" fill="#000" textLength="26" lengthAdjust="spacingAndGlyphs">BNP</text>
<text x="241.5" y="423" font-size="12.4" font-weight="bold" text-anchor="middle" fill="#000" textLength="45" lengthAdjust="spacingAndGlyphs">β- MHC</text>
<path d="M67.7 275.1V270.8H120V275.1" fill="none" stroke="#111" stroke-width="1.4"/>
<text x="93.85" y="271.1" font-size="21.5" font-weight="bold" text-anchor="middle" fill="#000">**</text>
<path d="M85 293.6V289.3H102.7V293.6" fill="none" stroke="#111" stroke-width="1.4"/>
<text x="93.85" y="289.6" font-size="21.5" font-weight="bold" text-anchor="middle" fill="#000">**</text>
<path d="M139.8 254.0V249.7H191.7V254.0" fill="none" stroke="#111" stroke-width="1.4"/>
<text x="165.75" y="250.0" font-size="21.5" font-weight="bold" text-anchor="middle" fill="#000">**</text>
<path d="M160 271.3V267H177.8V271.3" fill="none" stroke="#111" stroke-width="1.4"/>
<text x="168.9" y="267.3" font-size="21.5" font-weight="bold" text-anchor="middle" fill="#000">**</text>
<path d="M215.6 294.6V290.3H267.8V294.6" fill="none" stroke="#111" stroke-width="1.4"/>
<text x="241.7" y="290.6" font-size="21.5" font-weight="bold" text-anchor="middle" fill="#000">**</text>
<path d="M232.8 314.3V310H251V314.3" fill="none" stroke="#111" stroke-width="1.4"/>
<text x="241.9" y="310.3" font-size="21.5" font-weight="bold" text-anchor="middle" fill="#000">**</text>
<text x="2" y="229" font-size="25.5" font-weight="bold" text-anchor="start" fill="#000">C</text>
<path d="M361.40 408.5V356.93H384.20V408.5" fill="#fff" stroke="#454545" stroke-width="2.4"/>
<path d="M372.8 355.7V350.4M366.8 350.4H378.8" stroke="#454545" stroke-width="1.45" fill="none"/>
<circle cx="366.3" cy="347.7" r="2.3" fill="#454545"/>
<circle cx="378.7" cy="350.8" r="2.3" fill="#454545"/>
<circle cx="366.0" cy="354.7" r="2.3" fill="#454545"/>
<circle cx="366.0" cy="361.9" r="2.3" fill="#454545"/>
<circle cx="378.7" cy="360.1" r="2.3" fill="#454545"/>
<path d="M386.80 408.5V355.33H409.60V408.5" fill="#fff" stroke="#4a8a1c" stroke-width="2.4"/>
<path d="M398.2 354.1V340.3M392.2 340.3H404.2" stroke="#4a8a1c" stroke-width="1.45" fill="none"/>
<path d="M389.2 342.9L395.6 342.9L392.4 337.2Z" fill="#4a8a1c"/>
<path d="M401.5 346.6L407.9 346.6L404.7 340.8Z" fill="#4a8a1c"/>
<path d="M389.2 352.4L395.6 352.4L392.4 346.7Z" fill="#4a8a1c"/>
<path d="M395.3 365.8L401.7 365.8L398.5 360.0Z" fill="#4a8a1c"/>
<path d="M395.3 373.8L401.7 373.8L398.5 368.0Z" fill="#4a8a1c"/>
<path d="M412.20 408.5V312.16H435.00V408.5" fill="#fff" stroke="#a31515" stroke-width="2.4"/>
<path d="M423.6 311.0V291.2M417.6 291.2H429.6" stroke="#a31515" stroke-width="1.45" fill="none"/>
<path d="M420.6 285.5L426.6 285.5L423.6 279.5Z" fill="#fff" stroke="#a33030" stroke-width="0.9" stroke-linejoin="miter"/>
<path d="M414.6 310.6L420.6 310.6L417.6 304.6Z" fill="#fff" stroke="#a33030" stroke-width="0.9" stroke-linejoin="miter"/>
<path d="M427.4 310.5L433.4 310.5L430.4 304.5Z" fill="#fff" stroke="#a33030" stroke-width="0.9" stroke-linejoin="miter"/>
<path d="M414.6 331.2L420.6 331.2L417.6 325.2Z" fill="#fff" stroke="#a33030" stroke-width="0.9" stroke-linejoin="miter"/>
<path d="M427.3 329.4L433.3 329.4L430.3 323.4Z" fill="#fff" stroke="#a33030" stroke-width="0.9" stroke-linejoin="miter"/>
<path d="M437.50 408.5V355.23H460.50V408.5" fill="#fff" stroke="#fad07c" stroke-width="2.2"/>
<path d="M449.0 354.1V338.1M443.0 338.1H455.0" stroke="#fad07c" stroke-width="1.45" fill="none"/>
<circle cx="443.6" cy="336.7" r="2.9" fill="#fff6e0" stroke="#fad07c" stroke-width="1"/>
<circle cx="443.6" cy="336.7" r="1.0" fill="#fad07c"/>
<circle cx="456.4" cy="339.5" r="2.9" fill="#fff6e0" stroke="#fad07c" stroke-width="1"/>
<circle cx="456.4" cy="339.5" r="1.0" fill="#fad07c"/>
<circle cx="442.7" cy="351.5" r="2.9" fill="#fff6e0" stroke="#fad07c" stroke-width="1"/>
<circle cx="442.7" cy="351.5" r="1.0" fill="#fad07c"/>
<circle cx="455.5" cy="355.2" r="2.9" fill="#fff6e0" stroke="#fad07c" stroke-width="1"/>
<circle cx="455.5" cy="355.2" r="1.0" fill="#fad07c"/>
<circle cx="450.0" cy="376.0" r="2.9" fill="#fff6e0" stroke="#fad07c" stroke-width="1"/>
<circle cx="450.0" cy="376.0" r="1.0" fill="#fad07c"/>
<path d="M471.60 408.5V357.47H494.40V408.5" fill="#fff" stroke="#454545" stroke-width="2.4"/>
<path d="M483.0 356.3V338.7M477.0 338.7H489.0" stroke="#454545" stroke-width="1.45" fill="none"/>
<circle cx="477.0" cy="339.2" r="2.3" fill="#454545"/>
<circle cx="489.0" cy="343.5" r="2.3" fill="#454545"/>
<circle cx="478.0" cy="348.8" r="2.3" fill="#454545"/>
<circle cx="483.0" cy="364.8" r="2.3" fill="#454545"/>
<circle cx="483.0" cy="380.8" r="2.3" fill="#454545"/>
<path d="M497.50 408.5V357.73H520.30V408.5" fill="#fff" stroke="#4a8a1c" stroke-width="2.4"/>
<path d="M508.9 356.5V337.9M502.9 337.9H514.9" stroke="#4a8a1c" stroke-width="1.45" fill="none"/>
<path d="M505.7 335.4L512.1 335.4L508.9 329.6Z" fill="#4a8a1c"/>
<path d="M505.7 350.8L512.1 350.8L508.9 345.1Z" fill="#4a8a1c"/>
<path d="M505.7 360.4L512.1 360.4L508.9 354.7Z" fill="#4a8a1c"/>
<path d="M505.7 369.5L512.1 369.5L508.9 363.7Z" fill="#4a8a1c"/>
<path d="M505.7 380.1L512.1 380.1L508.9 374.4Z" fill="#4a8a1c"/>
<path d="M523.40 408.5V390.51H546.20V408.5" fill="#fff" stroke="#a31515" stroke-width="2.4"/>
<path d="M534.8 389.3V385.6M528.8 385.6H540.8" stroke="#a31515" stroke-width="1.45" fill="none"/>
<path d="M523.8 387.2L529.8 387.2L526.8 381.2Z" fill="#fff" stroke="#a33030" stroke-width="0.9" stroke-linejoin="miter"/>
<path d="M531.8 388.8L537.8 388.8L534.8 382.8Z" fill="#fff" stroke="#a33030" stroke-width="0.9" stroke-linejoin="miter"/>
<path d="M539.8 389.9L545.8 389.9L542.8 383.9Z" fill="#fff" stroke="#a33030" stroke-width="0.9" stroke-linejoin="miter"/>
<path d="M523.8 395.2L529.8 395.2L526.8 389.2Z" fill="#fff" stroke="#a33030" stroke-width="0.9" stroke-linejoin="miter"/>
<path d="M534.8 395.2L540.8 395.2L537.8 389.2Z" fill="#fff" stroke="#a33030" stroke-width="0.9" stroke-linejoin="miter"/>
<path d="M539.8 393.6L545.8 393.6L542.8 387.6Z" fill="#fff" stroke="#a33030" stroke-width="0.9" stroke-linejoin="miter"/>
<path d="M549.20 408.5V368.03H572.20V408.5" fill="#fff" stroke="#fad07c" stroke-width="2.2"/>
<path d="M560.7 366.9V352.0M554.7 352.0H566.7" stroke="#fad07c" stroke-width="1.45" fill="none"/>
<circle cx="560.7" cy="341.9" r="2.9" fill="#fff6e0" stroke="#fad07c" stroke-width="1"/>
<circle cx="560.7" cy="341.9" r="1.0" fill="#fad07c"/>
<circle cx="566.7" cy="366.9" r="2.9" fill="#fff6e0" stroke="#fad07c" stroke-width="1"/>
<circle cx="566.7" cy="366.9" r="1.0" fill="#fad07c"/>
<circle cx="554.7" cy="370.1" r="2.9" fill="#fff6e0" stroke="#fad07c" stroke-width="1"/>
<circle cx="554.7" cy="370.1" r="1.0" fill="#fad07c"/>
<circle cx="566.7" cy="374.9" r="2.9" fill="#fff6e0" stroke="#fad07c" stroke-width="1"/>
<circle cx="566.7" cy="374.9" r="1.0" fill="#fad07c"/>
<circle cx="554.7" cy="379.2" r="2.9" fill="#fff6e0" stroke="#fad07c" stroke-width="1"/>
<circle cx="554.7" cy="379.2" r="1.0" fill="#fad07c"/>
<path d="M347.1 247.9V409.4" fill="none" stroke="#111" stroke-width="1.4"/>
<path d="M346.40000000000003 408.5H586" fill="none" stroke="#111" stroke-width="1.8"/>
<path d="M340.5 408.5H347.1" stroke="#111" stroke-width="1.4"/>
<text x="338.5" y="412.4" font-size="10.8" font-weight="bold" text-anchor="end" fill="#000">0</text>
<path d="M340.5 355.2H347.1" stroke="#111" stroke-width="1.4"/>
<text x="338.5" y="359.09999999999997" font-size="10.8" font-weight="bold" text-anchor="end" fill="#000">1</text>
<path d="M340.5 301.9H347.1" stroke="#111" stroke-width="1.4"/>
<text x="338.5" y="305.79999999999995" font-size="10.8" font-weight="bold" text-anchor="end" fill="#000">2</text>
<path d="M340.5 248.6H347.1" stroke="#111" stroke-width="1.4"/>
<text x="338.5" y="252.50000000000003" font-size="10.8" font-weight="bold" text-anchor="end" fill="#000">3</text>
<text transform="translate(320.5 328.6) rotate(-90)" font-size="13" font-weight="bold" text-anchor="middle" textLength="126.8" lengthAdjust="spacingAndGlyphs">mRNA Relative Level</text>
<text x="411.4" y="422.8" font-size="12.4" font-weight="bold" text-anchor="middle" fill="#000" textLength="51" lengthAdjust="spacingAndGlyphs">miR-27a</text>
<text x="520" y="422.8" font-size="12.4" font-weight="bold" text-anchor="middle" fill="#000" textLength="26.5" lengthAdjust="spacingAndGlyphs">CSE</text>
<path d="M371.6 261.90000000000003V257.6H449.6V261.90000000000003" fill="none" stroke="#111" stroke-width="1.4"/>
<text x="410.6" y="257.90000000000003" font-size="21.5" font-weight="bold" text-anchor="middle" fill="#000">**</text>
<path d="M399.8 279.3V275H423.9V279.3" fill="none" stroke="#111" stroke-width="1.4"/>
<text x="411.85" y="275.3" font-size="21.5" font-weight="bold" text-anchor="middle" fill="#000">**</text>
<path d="M481.3 309.5V305.2H560.4V309.5" fill="none" stroke="#111" stroke-width="1.4"/>
<text x="520.85" y="305.5" font-size="21.5" font-weight="bold" text-anchor="middle" fill="#000">*</text>
<path d="M508 328.5V324.2H533V328.5" fill="none" stroke="#111" stroke-width="1.4"/>
<text x="520.5" y="324.5" font-size="21.5" font-weight="bold" text-anchor="middle" fill="#000">*</text>
<text x="293" y="229" font-size="25.5" font-weight="bold" text-anchor="start" fill="#000">D</text>
<circle cx="594.4" cy="114.7" r="2.3" fill="#454545"/>
<path d="M591.2 134.2L597.6 134.2L594.4 140.0Z" fill="#4a8a1c"/>
<path d="M591.4 161.9L597.4 161.9L594.4 155.9Z" fill="#fff" stroke="#a33030" stroke-width="0.9" stroke-linejoin="miter"/>
<circle cx="594.4" cy="181.0" r="2.9" fill="#fff6e0" stroke="#fad07c" stroke-width="1"/>
<circle cx="594.4" cy="181.0" r="1.0" fill="#fad07c"/>
<text x="613" y="119.10000000000001" font-size="12.7" font-weight="bold" text-anchor="start" fill="#000" textLength="18" lengthAdjust="spacingAndGlyphs">CN</text>
<text x="613" y="141.20000000000002" font-size="12.7" font-weight="bold" text-anchor="start" fill="#000" textLength="64.5" lengthAdjust="spacingAndGlyphs">Liraglutide</text>
<text x="613" y="163.6" font-size="12.7" font-weight="bold" text-anchor="start" fill="#000" textLength="34.5" lengthAdjust="spacingAndGlyphs">Ang II</text>
<text x="613" y="185.4" font-size="12.7" font-weight="bold" text-anchor="start" fill="#000" textLength="108" lengthAdjust="spacingAndGlyphs">Ang II+Liraglutide</text>
<circle cx="596.0" cy="335.3" r="2.3" fill="#454545"/>
<path d="M592.8 360.9L599.2 360.9L596.0 355.1Z" fill="#4a8a1c"/>
<path d="M593.0 383.2L599.0 383.2L596.0 377.2Z" fill="#fff" stroke="#a33030" stroke-width="0.9" stroke-linejoin="miter"/>
<circle cx="596.0" cy="402.5" r="2.9" fill="#fff6e0" stroke="#fad07c" stroke-width="1"/>
<circle cx="596.0" cy="402.5" r="1.0" fill="#fad07c"/>
<text x="614.5" y="339.7" font-size="12.7" font-weight="bold" text-anchor="start" fill="#000" textLength="18" lengthAdjust="spacingAndGlyphs">CN</text>
<text x="614.5" y="362.7" font-size="12.7" font-weight="bold" text-anchor="start" fill="#000" textLength="69.5" lengthAdjust="spacingAndGlyphs">Dulaglutide</text>
<text x="614.5" y="384.9" font-size="12.7" font-weight="bold" text-anchor="start" fill="#000" textLength="34.5" lengthAdjust="spacingAndGlyphs">Ang II</text>
<text x="614.5" y="406.9" font-size="12.7" font-weight="bold" text-anchor="start" fill="#000" textLength="112.5" lengthAdjust="spacingAndGlyphs">Ang II+Dulaglutide</text>
<text x="61" y="478.6" font-size="24" font-weight="bold" text-anchor="start" fill="#000">E</text>
<g filter="url(#soft)">
<rect x="98.9" y="484.6" width="277" height="356.6" fill="#fef0c7"/>
<rect x="375" y="484.6" width="276.6" height="357" fill="#eef5ea"/>
</g>
<rect x="365.1" y="489.3" width="20.1" height="351.5" fill="#b4acab" filter="url(#soft2)"/>
<path d="M253 622C252.1 620.3 250.1 615.3 247.5 611.8C244.9 608.3 241.5 603.9 237.7 600.8C233.9 597.7 229.2 594.9 224.5 593.2C219.8 591.5 214.3 590.5 209.2 590.5C204.1 590.5 198.6 591.5 193.8 593.2C189.1 594.9 184.3 597.7 180.7 600.8C177.0 603.9 174.3 607.6 171.9 611.8C169.5 616.0 167.6 621.4 166.4 626.0C165.2 630.6 164.9 634.9 164.9 639.2C164.9 643.5 165.3 648.4 166.2 652.0C167.1 655.6 168.6 657.7 170.2 661.0C171.8 664.3 173.7 668.2 175.9 671.9C178.1 675.5 180.4 679.2 183.3 682.9C186.2 686.5 189.5 690.2 193.5 693.8C197.5 697.4 202.8 701.0 207.5 704.6C212.2 708.2 217.8 712.5 222.0 715.4C226.2 718.2 229.0 719.6 232.5 721.7C236.0 723.8 239.5 726.2 243.0 727.8C246.5 729.4 251.8 730.9 253.5 731.5C255.1 730.9 259.8 729.3 263.0 727.6C266.2 725.9 269.0 723.6 272.5 721.5C276.0 719.4 279.5 718.0 283.8 715.2C288.1 712.4 294.1 708.2 298.3 704.6C302.5 701.0 305.4 697.2 308.9 693.8C312.3 690.4 315.9 687.4 319.0 684.0C322.1 680.6 324.9 677.5 327.5 673.6C330.1 669.7 332.8 664.9 334.8 660.5C336.8 656.1 338.4 651.7 339.6 647.3C340.8 642.9 341.9 638.6 342.2 634.2C342.5 629.8 342.3 625.4 341.3 621.0C340.3 616.6 338.6 611.7 336.3 607.9C334.0 604.1 331.0 600.9 327.5 598.0C324.0 595.1 320.1 592.5 315.5 590.8C310.9 589.1 305.2 587.9 300.1 587.7C295.0 587.6 289.6 588.4 284.8 589.9C280.1 591.4 275.6 593.9 271.6 596.9C267.6 599.9 263.8 603.7 260.7 607.9C257.6 612.1 254.3 619.6 253.0 622.0Z" fill="#f9c1b6"/>
<path d="M499.5 620.2C498.7 618.4 496.6 612.6 494.5 609.2C492.4 605.9 489.7 602.9 486.9 600.1C484.1 597.3 481.2 594.7 477.9 592.6C474.6 590.5 471.1 588.9 467.3 587.8C463.5 586.7 459.3 585.8 455.3 585.8C451.3 585.8 447.0 586.7 443.2 587.8C439.4 588.9 436.0 590.5 432.7 592.6C429.4 594.7 426.4 597.2 423.6 600.1C420.8 603.0 418.2 606.4 416.1 609.9C414.0 613.4 412.0 617.4 410.8 621.2C409.6 625.1 409.1 629.9 408.8 633.0C408.6 636.1 409.0 637.5 409.3 640.0C409.6 642.5 410.1 645.2 410.8 647.7C411.5 650.2 412.3 652.7 413.3 655.2C414.3 657.7 415.4 660.2 416.6 662.7C417.9 665.2 418.8 667.4 420.8 670.3C422.8 673.2 426.0 677.0 428.5 680.0C431.0 683.0 433.5 685.4 436.0 688.0C438.5 690.6 440.8 693.0 443.5 695.6C446.2 698.2 449.0 701.0 452.0 703.6C455.0 706.2 458.2 708.8 461.5 711.4C464.8 714.0 468.7 717.2 471.5 719.3C474.3 721.4 475.6 722.4 478.5 724.2C481.4 726.0 485.2 728.5 489.0 730.0C492.8 731.5 499.0 732.9 501.0 733.5C502.8 732.9 508.2 731.6 511.5 730.0C514.8 728.4 518.4 725.8 521.0 724.0C523.6 722.2 524.4 721.4 527.0 719.3C529.6 717.2 533.3 713.9 536.5 711.3C539.7 708.6 543.0 706.0 546.0 703.4C549.0 700.8 550.8 699.4 554.5 695.5C558.2 691.6 564.4 684.6 568.0 680.0C571.6 675.4 574.1 671.1 576.2 667.8C578.3 664.5 579.1 662.8 580.4 660.3C581.6 657.8 582.8 655.2 583.7 652.7C584.6 650.2 585.4 647.7 586.0 645.2C586.6 642.7 587.2 640.2 587.5 637.7C587.8 635.2 588.0 632.5 588.0 630.0C588.0 627.5 587.9 625.1 587.6 622.6C587.3 620.1 586.8 617.5 586.0 615.0C585.2 612.5 584.3 610.0 583.0 607.5C581.7 605.0 580.8 602.8 578.4 600.0C576.0 597.2 571.9 593.0 568.5 590.5C565.1 588.0 561.8 586.3 558.0 585.2C554.2 584.1 549.6 583.8 545.5 584.0C541.4 584.2 537.4 584.9 533.4 586.3C529.4 587.7 524.9 589.9 521.4 592.3C517.9 594.7 515.1 597.5 512.3 600.6C509.5 603.8 506.9 607.9 504.8 611.2C502.7 614.5 500.4 618.7 499.5 620.2Z" fill="#f9c1b6"/>
<polygon points="321.6,622.1 333.2,600.8 336.7,603.4 344.7,588.3 348.3,591.9 358.1,576.7 368.8,590.1 357.2,600.8 354.5,598.1 343.8,608.8 341.2,606.1" fill="#f08a1d"/>
<polygon points="428.4,621.6 416.8,600.3 413.3,602.9 405.3,587.8 401.7,591.4 391.9,576.2 381.2,589.6 392.8,600.3 395.5,597.6 406.2,608.3 408.8,605.6" fill="#f08a1d"/>
<rect x="167" y="501.7" width="177.5" height="49" rx="8.5" fill="url(#gr)" stroke="#f0607a" stroke-width="2.4"/>
<text x="177.8" y="533" font-size="17" font-weight="bold" text-anchor="start" fill="#fff" textLength="154.7" lengthAdjust="spacingAndGlyphs">Cardiac Hypertrophy</text>
<rect x="403.7" y="502" width="178" height="51" rx="8.5" fill="url(#gg)" stroke="#8fbea3" stroke-width="2.4"/>
<text x="414.7" y="523.6" font-size="15" font-weight="bold" text-anchor="start" fill="#f4f8f4" textLength="154.6" lengthAdjust="spacingAndGlyphs">Cardiac Hypertrophy</text>
<text x="434.8" y="545.6" font-size="15" font-weight="bold" text-anchor="start" fill="#f4f8f4" textLength="115.6" lengthAdjust="spacingAndGlyphs">+ GLP-1 agonist</text>
<circle cx="136.1" cy="526.5" r="22.2" fill="#c00000"/>
<circle cx="126.8" cy="522.7" r="3.7" fill="#fff3df"/><circle cx="144.9" cy="522.7" r="3.7" fill="#fff3df"/>
<path d="M124.8 539.8Q135.8 526.5 146.8 539.8" fill="none" stroke="#fff3df" stroke-width="2.3" stroke-linecap="round"/>
<circle cx="615.6" cy="529.2" r="23.6" fill="#14ae4e"/>
<circle cx="605.9" cy="525.7" r="3.7" fill="#f0faf0"/><circle cx="625.8" cy="525.7" r="3.7" fill="#f0faf0"/>
<path d="M604 538.6Q615.8 551.5 627.7 538.6" fill="none" stroke="#f0faf0" stroke-width="2.5" stroke-linecap="round"/>
<text x="333.8" y="570" font-size="15.4" font-weight="normal" text-anchor="start" fill="#111" textLength="77" lengthAdjust="spacingAndGlyphs" stroke="#111" stroke-width="0.3">Ang II/TAC</text>
<path d="M192.7 620.4v8.2M197.6 620.4v8.2M202.9 620.4v8.2M208.1 620.4v8.2M224.6 620.4v8.2M229.7 620.4v8.2M234.9 620.4v8.2M240.1 620.4v8.2" fill="none" stroke="#2a7ab5" stroke-width="1.4"/>
<path d="M189.7 620.4H208.4 C208.9 615.0 210.4 613.2 216.6 613.1999999999999 C222.8 613.2 224.3 615.0 224.79999999999998 620.4H242.3" fill="none" stroke="#17597c" stroke-width="1.8"/>
<path d="M443.7 617.2v8.2M448.7 617.2v8.2M454.1 617.2v8.2M459.4 617.2v8.2M476.2 617.2v8.2M481.4 617.2v8.2M486.7 617.2v8.2M492.0 617.2v8.2" fill="none" stroke="#2a7ab5" stroke-width="1.4"/>
<path d="M440.6 617.2H459.59999999999997 C460.1 611.7 461.7 609.9 467.9 609.9000000000001 C474.1 609.9 475.7 611.7 476.2 617.2H494.2" fill="none" stroke="#17597c" stroke-width="1.8"/>
<text x="209.6" y="643.8" font-size="15.3" font-weight="normal" text-anchor="start" fill="#111" textLength="83.4" lengthAdjust="spacingAndGlyphs" stroke="#111" stroke-width="0.3">miR-27a-3p</text>
<text x="454.4" y="645.4" font-size="15.4" font-weight="normal" text-anchor="start" fill="#111" textLength="86" lengthAdjust="spacingAndGlyphs" stroke="#111" stroke-width="0.3">miR-27a-3p</text>
<text x="496.8" y="598.8" font-size="15.2" font-weight="normal" text-anchor="start" fill="#111" textLength="100.4" lengthAdjust="spacingAndGlyphs" stroke="#111" stroke-width="0.3">GLP-1 agonist</text>
<path d="M535.4 610.5L530.4 623.4M524.2 622.0L535.6 626.2" stroke="#111" stroke-width="1.4" fill="none"/>
<defs><linearGradient id="gbr" x1="0" x2="0" y1="659" y2="671" gradientUnits="userSpaceOnUse"><stop offset="0" stop-color="#2a7ab5"/><stop offset="0.45" stop-color="#2a7ab5"/><stop offset="0.75" stop-color="#b02028"/><stop offset="1" stop-color="#b02028"/></linearGradient></defs>
<path d="M179.3 659V670.6M182.1 659V670.6M184.8 659V670.6M187.5 659V670.6M190.3 659V670.6M202.3 659V670.6M205.1 659V670.6M207.8 659V670.6M210.5 659V670.6M213.3 659V670.6" fill="none" stroke="url(#gbr)" stroke-width="1.2"/>
<path d="M193.1 670.6v-4.6M196.1 670.6v-4.6M199.1 670.6v-4.6M216 670.6v-4.4M218.8 670.6v-4.4M221.5 670.6v-4.4M224.5 670.6v-4.4M227.2 670.6v-4.4M230 670.6v-4.4M232.8 670.6v-4.4M235.5 670.6v-4.4" fill="none" stroke="#b02028" stroke-width="1.2"/>
<path d="M177.7 658.9H190.3C190.6 655.4 192.5 654.1 196.1 654.1C199.7 654.1 201.5 655.4 201.8 658.9H213.9" fill="none" stroke="#17597c" stroke-width="1.5"/>
<path d="M178.2 670.8H237.9" fill="none" stroke="#9c1c24" stroke-width="1.6"/>
<text x="180.6" y="685.6" font-size="11.6" font-weight="normal" text-anchor="start" fill="#111" textLength="35.6" lengthAdjust="spacingAndGlyphs" stroke="#111" stroke-width="0.3">3‘UTR</text>
<path d="M304 649.5V634.9" stroke="#c00018" stroke-width="1.8"/>
<path d="M299.8 636.5L308.2 636.5L304 628.3Z" fill="#c00018"/>
<path d="M289.1 676V691.0" stroke="#1fa152" stroke-width="1.8"/>
<path d="M284.90000000000003 689.4L293.3 689.4L289.1 697.6Z" fill="#1fa152"/>
<path d="M284 725.4V741.0" stroke="#1fa152" stroke-width="1.8"/>
<path d="M279.8 739.4L288.2 739.4L284 747.6Z" fill="#1fa152"/>
<path d="M548.7 628.4V643.8" stroke="#1fa152" stroke-width="1.8"/>
<path d="M544.5 642.2L552.9000000000001 642.2L548.7 650.4Z" fill="#1fa152"/>
<path d="M537.9 693V678.4" stroke="#c00018" stroke-width="1.8"/>
<path d="M533.6999999999999 680.0L542.1 680.0L537.9 671.8Z" fill="#c00018"/>
<path d="M534.6 747.4V732.0" stroke="#c00018" stroke-width="1.8"/>
<path d="M530.4 733.6L538.8000000000001 733.6L534.6 725.4Z" fill="#c00018"/>
<path d="M253.5 648.6V670.4M253.3 701V723.6M501.5 647.2V668.6M502.2 700.6V721.6" stroke="#2a1a1a" stroke-width="1.6"/>
<ellipse cx="255" cy="687" rx="27.2" ry="10.6" fill="url(#gcse)" filter="url(#soft3)"/>
<text x="241.5" y="691.8" font-size="14.6" font-weight="normal" text-anchor="start" fill="#111" textLength="24.8" lengthAdjust="spacingAndGlyphs" stroke="#111" stroke-width="0.3">CSE</text>
<ellipse cx="502.4" cy="685.8" rx="25.2" ry="11" fill="url(#gcse)" filter="url(#soft3)"/>
<text x="490.4" y="690.9" font-size="14.6" font-weight="normal" text-anchor="start" fill="#111" textLength="25.2" lengthAdjust="spacingAndGlyphs" stroke="#111" stroke-width="0.3">CSE</text>
<path d="M238.2 726.6L227.1 740.2" stroke="#6e6e70" stroke-width="2.4" stroke-linecap="round"/>
<path d="M238.2 726.6L247.0 739.6" stroke="#6e6e70" stroke-width="2.4" stroke-linecap="round"/>
<path d="M251.7 730.3L241.9 745.1" stroke="#6e6e70" stroke-width="2.4" stroke-linecap="round"/>
<path d="M251.7 730.3L254.2 739.3" stroke="#6e6e70" stroke-width="2.4" stroke-linecap="round"/>
<path d="M264.3 725.4L262.5 745.5" stroke="#6e6e70" stroke-width="2.4" stroke-linecap="round"/>
<path d="M264.3 725.4L275.0 739.6" stroke="#6e6e70" stroke-width="2.4" stroke-linecap="round"/>
<path d="M264.3 725.4L254.2 739.3" stroke="#6e6e70" stroke-width="2.4" stroke-linecap="round"/>
<circle cx="227.1" cy="740.2" r="3.9" fill="#dfe1ea" stroke="#c9ccd8" stroke-width="0.5"/>
<text x="227.1" y="741.8" font-size="4.5" font-weight="bold" text-anchor="middle" fill="#8a8d9a">H</text>
<circle cx="241.9" cy="745.1" r="3.9" fill="#dfe1ea" stroke="#c9ccd8" stroke-width="0.5"/>
<text x="241.9" y="746.7" font-size="4.5" font-weight="bold" text-anchor="middle" fill="#8a8d9a">H</text>
<circle cx="254.2" cy="739.3" r="3.9" fill="#dfe1ea" stroke="#c9ccd8" stroke-width="0.5"/>
<text x="254.2" y="740.9" font-size="4.5" font-weight="bold" text-anchor="middle" fill="#8a8d9a">H</text>
<circle cx="262.5" cy="745.5" r="3.9" fill="#dfe1ea" stroke="#c9ccd8" stroke-width="0.5"/>
<text x="262.5" y="747.1" font-size="4.5" font-weight="bold" text-anchor="middle" fill="#8a8d9a">H</text>
<circle cx="275.0" cy="739.6" r="3.9" fill="#dfe1ea" stroke="#c9ccd8" stroke-width="0.5"/>
<text x="275.0" y="741.2" font-size="4.5" font-weight="bold" text-anchor="middle" fill="#8a8d9a">H</text>
<ellipse cx="238.2" cy="726.6" rx="5.9" ry="6.4" fill="#f3a728" stroke="#e0901c" stroke-width="0.8"/>
<text x="238.2" y="729.8" font-size="9" font-weight="bold" text-anchor="middle" fill="#b8600e">S</text>
<ellipse cx="251.7" cy="730.3" rx="5.5" ry="5.8" fill="#f3a728" stroke="#e0901c" stroke-width="0.8"/>
<text x="251.7" y="733.5" font-size="9" font-weight="bold" text-anchor="middle" fill="#b8600e">S</text>
<ellipse cx="264.3" cy="725.4" rx="5.7" ry="6.5" fill="#f3a728" stroke="#e0901c" stroke-width="0.8"/>
<text x="264.3" y="728.6" font-size="9" font-weight="bold" text-anchor="middle" fill="#b8600e">S</text>
<path d="M483.0 729.3L472.8 742.5" stroke="#6e6e70" stroke-width="2.4" stroke-linecap="round"/>
<path d="M483.0 729.3L495.0 742.5" stroke="#6e6e70" stroke-width="2.4" stroke-linecap="round"/>
<path d="M493.5 723.7L483.6 739.2" stroke="#6e6e70" stroke-width="2.4" stroke-linecap="round"/>
<path d="M493.5 723.7L502.7 742.5" stroke="#6e6e70" stroke-width="2.4" stroke-linecap="round"/>
<path d="M514.8 729.3L502.7 742.5" stroke="#6e6e70" stroke-width="2.4" stroke-linecap="round"/>
<path d="M514.8 729.3L525.7 742.5" stroke="#6e6e70" stroke-width="2.4" stroke-linecap="round"/>
<circle cx="472.8" cy="742.5" r="3.9" fill="#dfe1ea" stroke="#c9ccd8" stroke-width="0.5"/>
<text x="472.8" y="744.1" font-size="4.5" font-weight="bold" text-anchor="middle" fill="#8a8d9a">H</text>
<circle cx="483.6" cy="739.2" r="3.9" fill="#dfe1ea" stroke="#c9ccd8" stroke-width="0.5"/>
<text x="483.6" y="740.8" font-size="4.5" font-weight="bold" text-anchor="middle" fill="#8a8d9a">H</text>
<circle cx="495.0" cy="742.5" r="3.9" fill="#dfe1ea" stroke="#c9ccd8" stroke-width="0.5"/>
<text x="495.0" y="744.1" font-size="4.5" font-weight="bold" text-anchor="middle" fill="#8a8d9a">H</text>
<circle cx="502.7" cy="742.5" r="3.9" fill="#dfe1ea" stroke="#c9ccd8" stroke-width="0.5"/>
<text x="502.7" y="744.1" font-size="4.5" font-weight="bold" text-anchor="middle" fill="#8a8d9a">H</text>
<circle cx="525.7" cy="742.5" r="3.9" fill="#dfe1ea" stroke="#c9ccd8" stroke-width="0.5"/>
<text x="525.7" y="744.1" font-size="4.5" font-weight="bold" text-anchor="middle" fill="#8a8d9a">H</text>
<ellipse cx="483.0" cy="729.3" rx="5.7" ry="6.2" fill="#f3a728" stroke="#e0901c" stroke-width="0.8"/>
<text x="483.0" y="732.5" font-size="9" font-weight="bold" text-anchor="middle" fill="#b8600e">S</text>
<ellipse cx="493.5" cy="723.7" rx="5.6" ry="6.0" fill="#f3a728" stroke="#e0901c" stroke-width="0.8"/>
<text x="493.5" y="726.9" font-size="9" font-weight="bold" text-anchor="middle" fill="#b8600e">S</text>
<ellipse cx="514.8" cy="729.3" rx="5.8" ry="6.3" fill="#f3a728" stroke="#e0901c" stroke-width="0.8"/>
<text x="514.8" y="732.5" font-size="9" font-weight="bold" text-anchor="middle" fill="#b8600e">S</text>
<path d="M252 750V771M248.6 766L252 771L255.4 766" fill="none" stroke="#111" stroke-width="1.5" stroke-linejoin="miter"/>
<path d="M501.7 750.7V771.4M498.3 766.4L501.7 771.4L505.09999999999997 766.4" fill="none" stroke="#111" stroke-width="1.5" stroke-linejoin="miter"/>
<g filter="url(#soft2)">
<g transform="translate(237 793) rotate(6)"><path d="M-25.0 -9.7L-13.8 -6.2L13.8 -6.2L25.0 -9.7L25.8 -5.7L18.0 0.0L25.8 5.7L25.0 9.7L13.8 6.2L-13.8 6.2L-25.0 9.7L-25.8 5.7L-18.0 0.0L-25.8 -5.7Z" fill="#f6c6cb" stroke="#f0b6c0" stroke-width="0.7" stroke-linejoin="round"/><ellipse cx="0" cy="0" rx="5.6" ry="4.1" fill="#f1b0be"/></g>
<g transform="translate(262 798) rotate(-7)"><path d="M-26.0 -9.7L-14.3 -6.2L14.3 -6.2L26.0 -9.7L26.8 -5.7L18.7 0.0L26.8 5.7L26.0 9.7L14.3 6.2L-14.3 6.2L-26.0 9.7L-26.8 5.7L-18.7 0.0L-26.8 -5.7Z" fill="#f6c6cb" stroke="#f0b6c0" stroke-width="0.7" stroke-linejoin="round"/><ellipse cx="0" cy="0" rx="5.6" ry="4.1" fill="#f1b0be"/></g>
<g transform="translate(252 787) rotate(1.5)"><path d="M-28.5 -10.5L-15.7 -7.0L15.7 -7.0L28.5 -10.5L29.3 -6.5L20.5 0.0L29.3 6.5L28.5 10.5L15.7 7.0L-15.7 7.0L-28.5 10.5L-29.3 6.5L-20.5 0.0L-29.3 -6.5Z" fill="#f6c6cb" stroke="#f0b6c0" stroke-width="0.7" stroke-linejoin="round"/><ellipse cx="0" cy="0" rx="5.6" ry="4.1" fill="#f1b0be"/></g>
<g transform="translate(210.5 810) rotate(-2.5)"><path d="M-23.5 -11.5L-12.9 -8.0L12.9 -8.0L23.5 -11.5L24.3 -7.5L16.9 0.0L24.3 7.5L23.5 11.5L12.9 8.0L-12.9 8.0L-23.5 11.5L-24.3 7.5L-16.9 0.0L-24.3 -7.5Z" fill="#f6c6cb" stroke="#f0b6c0" stroke-width="0.7" stroke-linejoin="round"/><ellipse cx="0" cy="0" rx="5.6" ry="4.1" fill="#f1b0be"/></g>
<g transform="translate(270 808) rotate(-2)"><path d="M-30.0 -11.5L-16.5 -8.0L16.5 -8.0L30.0 -11.5L30.8 -7.5L21.6 0.0L30.8 7.5L30.0 11.5L16.5 8.0L-16.5 8.0L-30.0 11.5L-30.8 7.5L-21.6 0.0L-30.8 -7.5Z" fill="#f6c6cb" stroke="#f0b6c0" stroke-width="0.7" stroke-linejoin="round"/><ellipse cx="0" cy="0" rx="5.6" ry="4.1" fill="#f1b0be"/></g>
</g>
<g filter="url(#soft2)">
<g transform="translate(486 803.5) rotate(-1.5)"><path d="M-26.0 -4.5L-14.3 -2.8L14.3 -2.8L26.0 -4.5L26.8 -1.9L18.7 0.0L26.8 1.9L26.0 4.5L14.3 2.8L-14.3 2.8L-26.0 4.5L-26.8 1.9L-18.7 0.0L-26.8 -1.9Z" fill="#f3bac4" stroke="#f0b0bc" stroke-width="0.7" stroke-linejoin="round"/><ellipse cx="0" cy="0" rx="1" ry="1" fill="#f3bac4"/></g>
<g transform="translate(528.5 790.5) rotate(2.5)"><path d="M-22.522211259110417 -1.2 Q-9.0 -1.5 0.0 -2.5 Q11.3 -1.5 22.522211259110417 -1.2 L22.522211259110417 1.2 Q11.3 1.5 0.0 2.5 Q-9.0 1.5 -22.522211259110417 1.2Z" fill="#f3bac4"/><ellipse cx="0.0" cy="0" rx="4" ry="2.6" fill="#f3bac4"/></g>
<g transform="translate(482 796.5) rotate(6)"><path d="M-22.5 -6.5L-12.4 -3.8L12.4 -3.8L22.5 -6.5L23.3 -3.5L16.2 0.0L23.3 3.5L22.5 6.5L12.4 3.8L-12.4 3.8L-22.5 6.5L-23.3 3.5L-16.2 0.0L-23.3 -3.5Z" fill="#f3bac4" stroke="#f0b0bc" stroke-width="0.7" stroke-linejoin="round"/><ellipse cx="0" cy="0" rx="4.4" ry="2.7" fill="#eea7b8"/></g>
<g transform="translate(528 797.8) rotate(3)"><path d="M-25.0 -7.5L-13.8 -4.0L13.8 -4.0L25.0 -7.5L25.8 -4.5L18.0 0.0L25.8 4.5L25.0 7.5L13.8 4.0L-13.8 4.0L-25.0 7.5L-25.8 4.5L-18.0 0.0L-25.8 -4.5Z" fill="#f3bac4" stroke="#f0b0bc" stroke-width="0.7" stroke-linejoin="round"/><ellipse cx="0" cy="0" rx="4.4" ry="2.7" fill="#eea7b8"/></g>
<g transform="translate(488 786.5) rotate(8)"><path d="M-24.5 -6.5L-13.5 -3.8L13.5 -3.8L24.5 -6.5L25.3 -3.5L17.6 0.0L25.3 3.5L24.5 6.5L13.5 3.8L-13.5 3.8L-24.5 6.5L-25.3 3.5L-17.6 0.0L-25.3 -3.5Z" fill="#f3bac4" stroke="#f0b0bc" stroke-width="0.7" stroke-linejoin="round"/><ellipse cx="0" cy="0" rx="4.4" ry="2.7" fill="#eea7b8"/></g>
<g transform="translate(527 782.3) rotate(2)"><path d="M-26.0 -7.8L-14.3 -4.2L14.3 -4.2L26.0 -7.8L26.8 -4.8L18.7 0.0L26.8 4.8L26.0 7.8L14.3 4.2L-14.3 4.2L-26.0 7.8L-26.8 4.8L-18.7 0.0L-26.8 -4.8Z" fill="#f3bac4" stroke="#f0b0bc" stroke-width="0.7" stroke-linejoin="round"/><ellipse cx="0" cy="0" rx="4.4" ry="2.7" fill="#eea7b8"/></g>
<g transform="translate(515.5 811) rotate(-1.5)"><path d="M-26.0 -6.5L-14.3 -4.3L14.3 -4.3L26.0 -6.5L26.8 -3.5L18.7 0.0L26.8 3.5L26.0 6.5L14.3 4.3L-14.3 4.3L-26.0 6.5L-26.8 3.5L-18.7 0.0L-26.8 -3.5Z" fill="#f3bac4" stroke="#f0b0bc" stroke-width="0.7" stroke-linejoin="round"/><ellipse cx="0" cy="0" rx="4.4" ry="2.7" fill="#eea7b8"/></g>
<g transform="translate(513.0 800.0) rotate(-19.4)"><path d="M-18.027756377319946 -1.5 Q-7.2 -1.8 0.0 -3.0 Q9.0 -1.8 18.027756377319946 -1.5 L18.027756377319946 1.5 Q9.0 1.8 0.0 3.0 Q-7.2 1.8 -18.027756377319946 1.5Z" fill="#f3bac4"/><ellipse cx="0.0" cy="0" rx="4" ry="2.6" fill="#f3bac4"/></g>
</g>
</svg>
</body></html>
